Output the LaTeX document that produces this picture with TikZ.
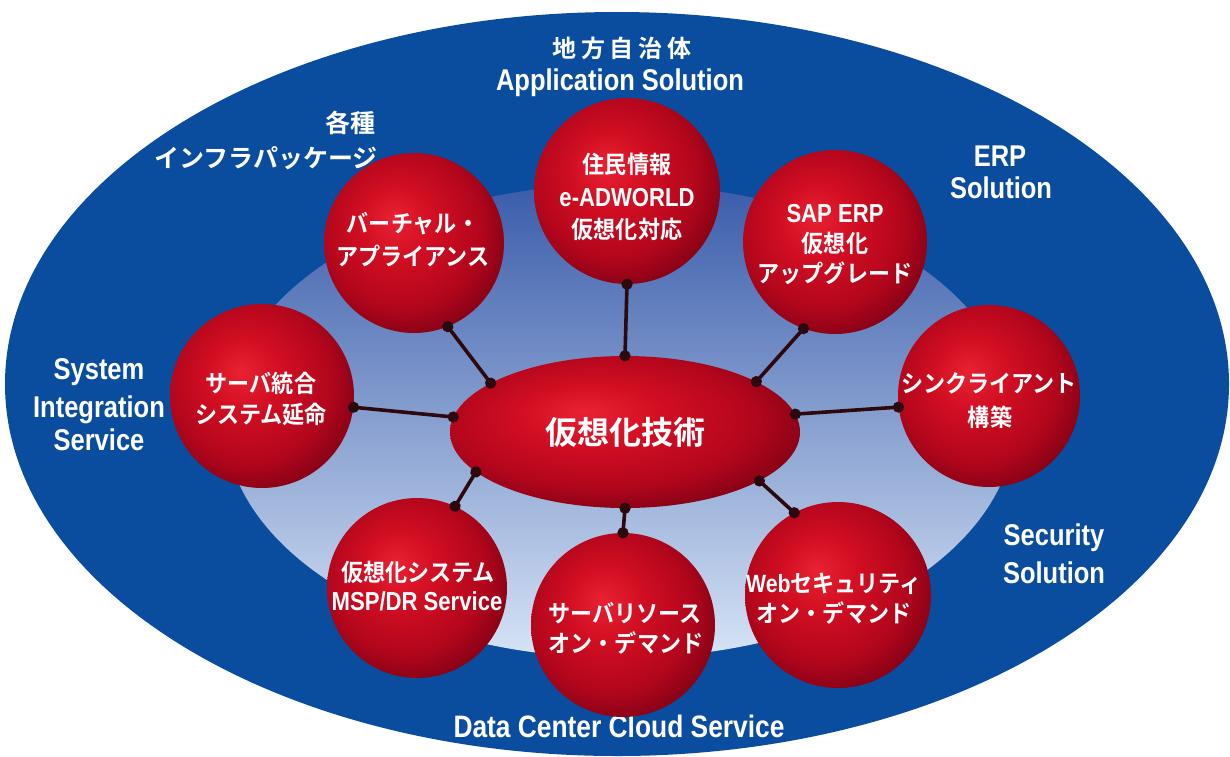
\documentclass[tikz,border=0pt]{standalone}
\usepackage{fontspec}
\usetikzlibrary{shapes.geometric,arrows.meta}

% Fonts: bold gothic for Japanese, narrowed bold sans for Latin
\newfontfamily\jpf{Noto Sans CJK JP Bold}
\newfontfamily\jpn{Noto Sans CJK JP Bold}[FakeStretch=0.92]
\newfontfamily\jpw{Noto Sans CJK JP Bold}[LetterSpace=20]
\newfontfamily\latf{Liberation Sans Bold}[FakeStretch=0.85]

% Colours
\definecolor{ringblue}{RGB}{10,76,158}
\definecolor{innertop}{RGB}{58,92,170}
\definecolor{innermid}{RGB}{156,182,222}
\definecolor{innerbot}{RGB}{214,228,246}
\definecolor{sphA}{RGB}{232,34,50}
\definecolor{sphB}{RGB}{210,14,34}
\definecolor{sphC}{RGB}{178,6,28}
\definecolor{sphD}{RGB}{118,0,20}
\definecolor{linkcol}{RGB}{45,8,14}

% Red ball shading, lit from the upper left
\pgfdeclareradialshading{redball}{\pgfpoint{-6bp}{7bp}}{%
  color(0bp)=(sphA); color(10bp)=(sphB); color(22bp)=(sphC);
  color(32bp)=(sphD); color(50bp)=(sphD)}

\tikzset{
  ball/.style={circle, minimum size=184pt, inner sep=0pt, shade, shading=redball},
  core/.style={ellipse, minimum width=350pt, minimum height=152pt, inner sep=0pt,
               shade, shading=redball},
  link/.style={draw=linkcol, line width=3.6pt,
               shorten <=-5.5pt, shorten >=-5.5pt},
  dots/.style={{Circle[length=11pt,width=11pt]}-{Circle[length=11pt,width=11pt]}},
  outerjp/.style={text=white, inner sep=0pt, anchor=base,
                  font=\jpf\fontsize{25}{30}\selectfont},
  outerlat/.style={text=white, inner sep=0pt, anchor=base,
                   font=\latf\fontsize{30}{34}\selectfont},
  balljp/.style={text=white, inner sep=0pt, anchor=base,
                 font=\jpn\fontsize{24}{28}\selectfont},
  balllat/.style={text=white, inner sep=0pt, anchor=base,
                  font=\latf\fontsize{26}{30}\selectfont},
}

\begin{document}
\begin{tikzpicture}[x=1pt,y=-1pt]
\useasboundingbox (0,0) rectangle (1230,756);
\fill[white] (0,0) rectangle (1230,756);

% Outer ring and inner field
\fill[ringblue] (617,384) ellipse [x radius=612pt, y radius=372pt];
\shade[top color=innertop, middle color=innermid, bottom color=innerbot]
  (620,421) ellipse [x radius=395pt, y radius=237pt];

% Ring labels
\node[outerjp, font=\jpw\fontsize{24}{30}\selectfont] (ltopa) at (622,57) {地方自治体};
\node[outerlat] (ltopb) at (620,90) {Application Solution};
\node[outerjp, anchor=base east] (linfa) at (376,132) {各種};
\node[outerjp, anchor=base east] (linfb) at (378,167) {インフラパッケージ};
\node[outerlat] (lerpa) at (1000,166) {ERP};
\node[outerlat] (lerpb) at (1001,198) {Solution};
\node[outerlat] (lsysa) at (99,379) {System};
\node[outerlat] (lsysb) at (99,417) {Integration};
\node[outerlat] (lsysc) at (99,450) {Service};
\node[outerlat] (lseca) at (1054,545) {Security};
\node[outerlat] (lsecb) at (1054,583) {Solution};
\node[outerlat, font=\latf\fontsize{31}{34}\selectfont] (ldc) at (619,737) {Data Center Cloud Service};

% Spheres and the central ellipse
\node[ball, minimum size=180pt] (svirt) at (414,243) {};
\node[ball, minimum size=186pt] (sjumin) at (627,191) {};
\node[ball] (ssap) at (835,242) {};
\node[ball] (ssrv) at (262,396) {};
\node[ball, minimum size=182pt] (sthin) at (989,396) {};
\node[ball, minimum size=180pt] (smsp) at (417,588) {};
\node[ball] (sres) at (623,625) {};
\node[ball, minimum size=186pt] (sweb) at (838,595) {};
\node[core] (core) at (625,432) {};

% Connectors with dots at both ends
\draw[link, dots] (core.90) -- (sjumin.270);
\draw[link, dots] (core.160) -- (svirt.292);
\draw[link, dots] (core.21) -- (ssap.250);
\draw[link, dots] (core.175) -- (ssrv.353);
\draw[link, dots] (core.6) -- (sthin.187);
\draw[link, dots] (core.195) -- (smsp.65);
\draw[link, dots] (core.340) -- (sweb.118);
\draw[link, dots] (core.270) -- (sres.90);

% Sphere texts
\node[text=white, font=\jpf\fontsize{32}{36}\selectfont] (tcore) at (core.center) {仮想化技術};

\node[balljp] (tvirta) at (413,232) {バーチャル・};
\node[balljp] (tvirtb) at (413,265) {アプライアンス};

\node[balljp] (tjumina) at (627,173) {住民情報};
\node[balllat] (tjuminb) at (627,206) {e-ADWORLD};
\node[balljp] (tjuminc) at (627,238) {仮想化対応};

\node[balllat] (tsapa) at (835,222) {SAP ERP};
\node[balljp] (tsapb) at (835,252) {仮想化};
\node[balljp] (tsapc) at (835,282) {アップグレード};

\node[balljp] (tsrva) at (261,392) {サーバ統合};
\node[balljp] (tsrvb) at (261,423) {システム延命};

\node[balljp] (tthina) at (989,392) {シンクライアント};
\node[balljp] (tthinb) at (990,426) {構築};

\node[balljp] (tmspa) at (418,581) {仮想化システム};
\node[balllat] (tmspb) at (417,610) {MSP/DR Service};

\node[balljp] (tresa) at (625,622) {サーバリソース};
\node[balljp] (tresb) at (626,652) {オン・デマンド};

\node[balljp] (tweba) at (834,592) {{\latf\fontsize{25}{28}\selectfont Web}セキュリティ};
\node[balljp] (twebb) at (834,622) {オン・デマンド};
\end{tikzpicture}
\end{document}
